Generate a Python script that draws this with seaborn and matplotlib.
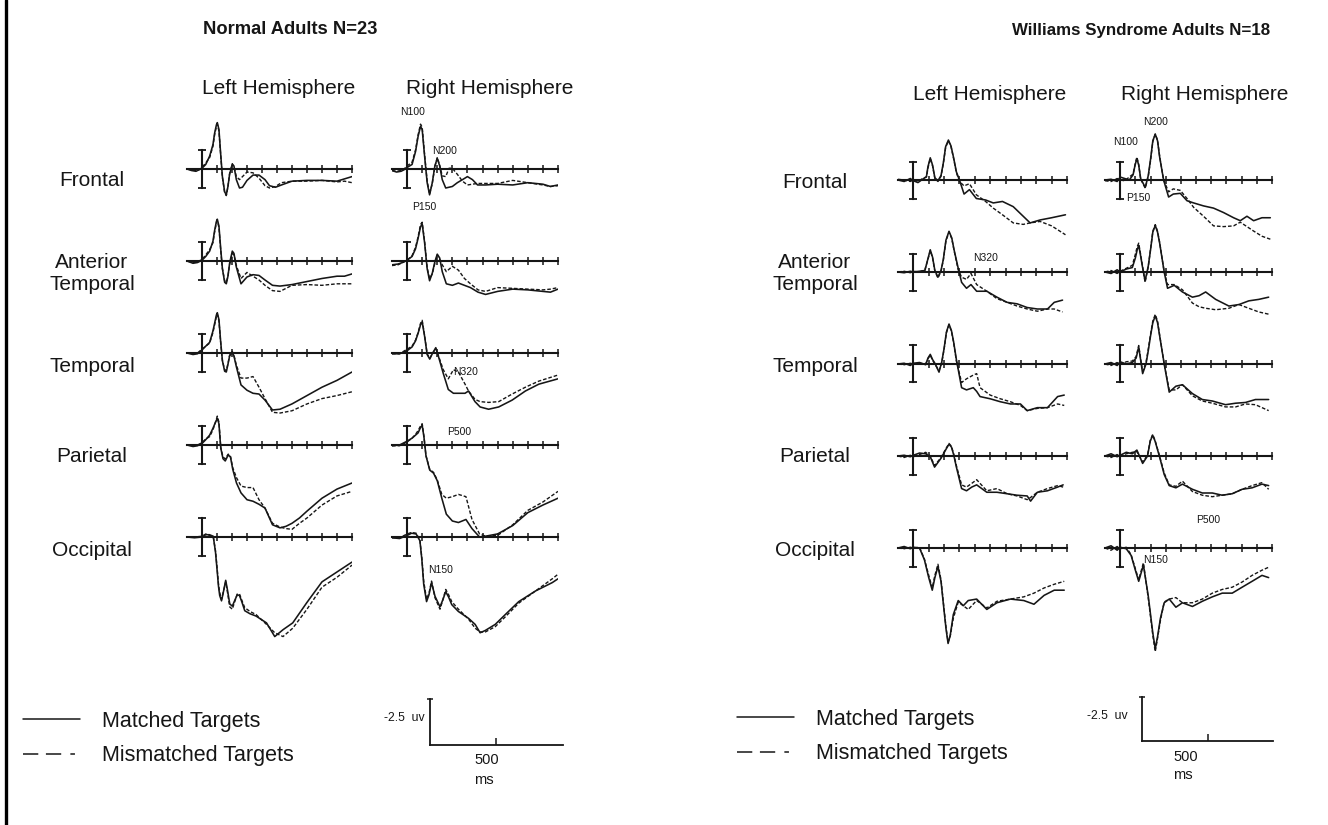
import matplotlib
matplotlib.use("Agg")
import matplotlib.pyplot as plt
import seaborn as sns
from matplotlib.lines import Line2D

sns.set_style("white")
plt.rcParams["font.family"] = ["Liberation Sans", "DejaVu Sans"]

# ---------------- data (time in ms, amplitude in uV, negative plotted up) ----------------
regions = ["Frontal", "Anterior\nTemporal", "Temporal", "Parietal", "Occipital"]
hemispheres = ["Left Hemisphere", "Right Hemisphere"]
conditions = ["Matched Targets", "Mismatched Targets"]
tick_times = [100, 200, 300, 400, 500, 600, 700, 800, 900, 1000]

# Normal adults, left hemisphere
nl_front_t = [-100, -70, -40, -20, 0, 25, 51, 73, 84, 96, 102, 113, 124, 136, 151, 162, 173, 184, 202, 213, 229, 250, 270, 300, 340, 380, 420, 450, 490, 530, 600, 700, 800, 900, 950, 1000]
nl_front_m = [0, 0.2, 0.3, 0.1, -0.1, -0.6, -1.7, -3.2, -4.7, -5.8, -6.1, -5.2, -2.1, 1.0, 3.0, 3.4, 2.3, 0.7, -0.6, -0.4, 1.4, 2.5, 2.4, 1.5, 0.8, 0.8, 1.4, 2.2, 2.4, 2.1, 1.6, 1.5, 1.5, 1.6, 1.3, 1.0]
nl_front_mm = [0, 0.1, 0.2, 0.1, -0.2, -0.8, -1.5, -3.0, -4.5, -5.6, -5.9, -5.0, -2.0, 1.1, 3.1, 3.5, 2.3, 0.6, -0.7, -0.3, 1.0, 1.4, 1.0, 0.4, 0.5, 1.2, 2.2, 2.5, 2.3, 1.8, 1.6, 1.6, 1.5, 1.7, 1.6, 1.8]
nl_at_t = [-100, -60, -30, 0, 25, 51, 73, 84, 96, 102, 113, 124, 136, 151, 162, 173, 184, 202, 213, 229, 260, 300, 340, 380, 420, 470, 520, 600, 700, 800, 900, 950, 1000]
nl_at_m = [0, 0.3, 0.2, -0.1, -0.6, -1.3, -2.6, -4.0, -5.2, -5.5, -4.6, -1.8, 1.0, 2.8, 3.0, 2.0, 0.3, -1.3, -1.0, 0.8, 3.0, 2.1, 1.8, 1.9, 2.5, 3.2, 3.3, 3.1, 2.7, 2.3, 2.0, 2.0, 1.7]
nl_at_mm = [0, 0.2, 0.1, -0.2, -0.8, -1.5, -2.4, -3.8, -5.0, -5.3, -4.4, -1.6, 1.0, 2.6, 2.8, 2.0, 0.5, -1.0, -0.8, 0.6, 2.3, 1.5, 2.0, 2.5, 3.2, 3.9, 4.0, 3.2, 3.1, 3.2, 3.0, 3.0, 3.0]
nl_temp_t = [-100, -60, -30, 0, 25, 51, 73, 84, 96, 102, 113, 124, 136, 151, 162, 173, 184, 202, 213, 229, 260, 300, 340, 380, 420, 470, 520, 600, 700, 800, 900, 1000]
nl_temp_m = [0, 0.2, 0.1, -0.4, -0.9, -1.4, -2.9, -3.9, -5.0, -5.3, -4.4, -1.6, 1.0, 2.4, 2.5, 1.5, 0.4, -0.1, 0.4, 1.8, 4.2, 4.9, 5.3, 5.4, 6.2, 7.5, 7.4, 6.7, 5.6, 4.5, 3.6, 2.5]
nl_temp_mm = [0, 0.1, 0.0, -0.5, -0.9, -1.3, -2.7, -3.7, -4.8, -5.1, -4.2, -1.5, 1.0, 2.2, 2.3, 1.4, 0.3, -0.2, 0.3, 1.6, 3.3, 3.3, 3.1, 4.5, 6.0, 7.8, 7.9, 7.6, 6.7, 6.0, 5.6, 5.1]
nl_par_t = [-100, -60, -30, 0, 25, 51, 73, 90, 102, 113, 125, 140, 155, 175, 190, 205, 230, 260, 300, 340, 380, 420, 470, 520, 560, 600, 650, 700, 800, 900, 1000]
nl_par_m = [0, 0.2, 0.1, -0.2, -0.7, -1.3, -2.2, -3.0, -3.5, -2.8, 0.4, 1.8, 2.1, 1.3, 1.6, 3.2, 5.0, 6.3, 7.2, 7.4, 7.8, 8.3, 10.5, 10.9, 10.7, 10.3, 9.6, 8.7, 7.0, 5.8, 5.0]
nl_par_mm = [0, 0.1, 0.0, -0.3, -0.8, -1.1, -2.0, -3.0, -3.8, -3.0, 0.3, 1.6, 1.8, 1.2, 1.5, 3.0, 4.3, 5.4, 5.6, 5.6, 7.2, 8.3, 10.3, 10.8, 11.0, 11.1, 10.3, 9.6, 7.9, 6.7, 6.1]
nl_occ_t = [-100, -50, 0, 25, 50, 75, 90, 100, 110, 118, 130, 140, 158, 170, 185, 202, 215, 235, 250, 265, 285, 320, 360, 430, 485, 540, 605, 700, 800, 900, 1000]
nl_occ_m = [0, 0.1, 0, -0.3, -0.3, -0.1, 2.0, 4.2, 6.5, 7.7, 8.4, 7.5, 5.7, 7.0, 8.8, 9.1, 8.5, 7.6, 7.7, 8.5, 9.7, 10.1, 10.4, 11.3, 13.1, 12.2, 11.3, 8.6, 5.9, 4.6, 3.3]
nl_occ_mm = [0, 0, -0.1, -0.4, -0.2, 0, 1.8, 3.9, 6.2, 7.3, 8.2, 7.4, 5.9, 7.3, 9.2, 9.5, 8.7, 7.5, 7.5, 8.3, 9.3, 9.8, 10.2, 11.5, 12.6, 13.1, 12.0, 9.5, 6.6, 5.3, 3.7]

# Normal adults, right hemisphere
nr_front_t = [-100, -70, -40, -20, 0, 33, 56, 73, 89, 100, 116, 133, 149, 167, 184, 200, 216, 233, 256, 278, 300, 333, 367, 400, 433, 467, 520, 600, 700, 800, 900, 950, 1000]
nr_front_m = [0.2, 0.4, 0.3, 0.1, -0.2, -0.6, -2.3, -4.3, -5.6, -5.2, -1.7, 1.8, 3.4, 1.8, -0.4, -1.4, -0.4, 1.4, 2.5, 2.4, 2.3, 1.8, 1.4, 1.0, 1.4, 2.1, 2.1, 2.0, 2.1, 1.8, 2.0, 2.3, 2.1]
nr_front_mm = [0.2, 0.3, 0.2, 0.0, -0.4, -0.9, -2.5, -4.5, -5.9, -5.5, -1.9, 1.6, 3.3, 1.9, -0.3, -1.5, -0.5, 0.9, 1.0, -0.1, -0.1, 0.7, 1.6, 2.1, 2.0, 1.9, 1.9, 1.9, 1.5, 1.8, 2.1, 2.3, 2.2]
nr_at_t = [-100, -60, -30, 0, 33, 56, 73, 89, 100, 116, 133, 149, 167, 184, 200, 216, 233, 260, 300, 340, 380, 420, 470, 520, 600, 700, 800, 900, 950, 1000]
nr_at_m = [0.5, 0.4, 0.2, -0.1, -0.6, -1.6, -3.0, -4.5, -4.9, -2.4, 1.0, 2.6, 1.6, 0.1, -0.9, -0.4, 1.4, 3.0, 3.2, 2.9, 3.2, 3.5, 4.1, 4.4, 4.0, 3.7, 3.8, 4.0, 4.1, 3.7]
nr_at_mm = [0.6, 0.5, 0.2, -0.1, -0.7, -1.8, -3.2, -4.8, -5.1, -2.6, 0.9, 2.3, 1.7, 0.3, -0.8, -0.2, 0.5, 1.4, 0.7, 1.2, 2.3, 3.0, 3.8, 4.0, 3.5, 3.6, 3.7, 3.8, 3.7, 3.5]
nr_temp_t = [-100, -50, 0, 33, 56, 73, 89, 100, 116, 133, 150, 167, 190, 210, 240, 273, 307, 340, 384, 407, 450, 484, 540, 607, 696, 784, 873, 1000]
nr_temp_m = [0.1, 0.1, -0.3, -0.8, -1.6, -2.6, -3.7, -4.1, -2.2, 0.2, 0.8, 0.1, -0.7, 0.6, 2.7, 4.8, 5.3, 5.3, 5.3, 5.0, 6.4, 7.1, 7.4, 7.1, 6.2, 5.0, 4.1, 3.4]
nr_temp_mm = [0.1, 0.1, -0.5, -0.9, -1.7, -2.7, -3.9, -4.3, -2.3, 0.1, 0.7, 0.1, -0.6, 0.5, 2.2, 3.4, 2.2, 2.5, 4.1, 5.0, 6.1, 6.4, 6.5, 6.4, 5.4, 4.5, 3.7, 2.9]
nr_par_t = [-100, -50, 0, 33, 56, 73, 89, 100, 112, 125, 150, 175, 200, 230, 260, 300, 340, 390, 430, 480, 520, 600, 700, 800, 900, 1000]
nr_par_m = [0.1, 0, -0.5, -0.9, -1.3, -1.6, -2.3, -2.6, -1.0, 1.4, 3.3, 3.7, 4.7, 7.0, 9.1, 10.0, 10.2, 9.8, 11.0, 12.1, 12.0, 11.7, 10.6, 8.9, 7.9, 7.0]
nr_par_mm = [0.1, 0.1, -0.4, -0.9, -1.4, -1.9, -2.5, -2.8, -1.1, 1.4, 3.2, 3.6, 4.6, 6.5, 7.0, 6.8, 6.5, 6.8, 9.8, 11.7, 12.0, 11.9, 10.5, 8.6, 7.5, 6.1]
nr_occ_t = [-100, -50, 0, 30, 60, 85, 98, 110, 129, 145, 162, 185, 218, 238, 256, 275, 296, 340, 407, 451, 484, 518, 584, 651, 740, 851, 962, 1000]
nr_occ_m = [0.1, 0.2, -0.2, -0.5, -0.4, 0.5, 3.0, 6.2, 8.5, 7.6, 6.0, 7.8, 9.2, 8.2, 7.2, 7.9, 8.9, 9.8, 10.7, 11.5, 12.6, 12.3, 11.5, 10.2, 8.5, 7.1, 6.0, 5.5]
nr_occ_mm = [0.1, 0.1, -0.4, -0.6, -0.5, 0.4, 2.8, 5.8, 8.2, 7.4, 5.8, 8.0, 9.5, 8.2, 6.9, 7.6, 8.5, 9.5, 10.8, 12.0, 12.5, 12.5, 11.8, 10.5, 8.7, 7.1, 5.5, 4.9]

# Williams syndrome adults, left hemisphere
wl_front_t = [-100, -60, -20, 0, 30, 60, 85, 95, 110, 125, 140, 160, 180, 195, 210, 228, 245, 262, 280, 300, 330, 365, 410, 470, 520, 580, 650, 715, 760, 825, 900, 990]
wl_front_m = [0, 0.2, -0.2, 0.1, 0.35, -0.1, -0.45, -1.8, -3.0, -2.0, -0.3, 0.1, -0.6, -2.3, -4.5, -5.4, -4.6, -3.0, -1.1, 0, 1.9, 1.3, 2.5, 2.7, 3.1, 2.9, 3.6, 4.9, 5.8, 5.4, 5.1, 4.7]
wl_front_mm = [-0.1, 0, 0.2, 0, 0.2, -0.2, -0.4, -1.6, -2.9, -1.9, -0.2, 0.2, -0.5, -2.2, -4.4, -5.3, -4.5, -2.9, -1.0, 0.2, 0.8, 0.5, 2.0, 2.9, 3.8, 4.7, 5.8, 6.0, 5.8, 5.6, 6.2, 7.4]
wl_at_t = [-100, -60, -20, 0, 40, 75, 95, 110, 125, 140, 160, 180, 195, 212, 232, 250, 265, 292, 314, 346, 375, 412, 478, 544, 610, 675, 741, 807, 873, 917, 971]
wl_at_m = [0, 0.1, -0.1, 0, -0.1, -0.2, -1.8, -3.0, -2.0, -0.2, 0.7, -0.2, -1.7, -4.3, -5.5, -4.6, -3.0, -0.5, 1.4, 2.2, 1.7, 2.6, 2.6, 3.4, 4.1, 4.3, 4.8, 5.0, 5.0, 4.1, 3.8]
wl_at_mm = [0, -0.1, 0.1, -0.1, 0, -0.3, -1.7, -2.9, -1.9, -0.1, 0.8, -0.1, -1.6, -4.2, -5.4, -4.5, -2.9, -0.3, 0.7, 1.0, 0.2, 1.7, 2.6, 3.6, 4.1, 4.6, 5.0, 5.3, 5.0, 5.0, 5.4]
wl_temp_t = [-100, -60, -20, 0, 40, 80, 95, 110, 125, 140, 167, 185, 200, 215, 232, 248, 262, 280, 314, 346, 390, 412, 434, 500, 566, 632, 697, 741, 807, 873, 939, 982]
wl_temp_m = [0, -0.1, 0.2, -0.1, -0.2, 0.1, -0.8, -1.3, -0.6, -0.1, 1.1, -0.3, -2.1, -4.3, -5.4, -4.5, -3.0, -0.6, 3.2, 3.5, 3.2, 3.7, 4.4, 4.7, 5.1, 5.4, 5.4, 6.3, 5.9, 5.9, 4.4, 4.2]
wl_temp_mm = [0, 0.1, -0.1, 0, -0.1, 0, -0.7, -1.2, -0.5, 0, 0.9, -0.2, -2.0, -4.2, -5.3, -4.4, -2.9, -0.4, 2.5, 2.0, 1.5, 1.3, 3.2, 4.2, 4.7, 5.1, 5.6, 6.3, 6.0, 5.9, 5.4, 5.6]
wl_par_t = [-100, -60, -20, 0, 40, 80, 110, 138, 180, 215, 232, 248, 262, 280, 314, 346, 380, 412, 478, 544, 610, 675, 741, 763, 807, 873, 939, 975]
wl_par_m = [0, -0.1, 0.1, -0.1, -0.4, -0.3, 0.1, 1.5, 0.3, -1.0, -1.6, -1.2, -0.2, 1.5, 4.4, 4.7, 4.2, 3.9, 4.9, 4.9, 5.1, 5.3, 5.4, 6.1, 4.9, 4.7, 4.2, 3.9]
wl_par_mm = [0, 0.2, -0.1, 0.1, -0.2, -0.5, 0, 1.3, 0.2, -1.1, -1.7, -1.3, -0.3, 1.3, 3.9, 4.2, 3.7, 3.2, 4.7, 4.4, 5.1, 5.4, 5.9, 5.6, 4.9, 4.4, 4.0, 4.2]
wl_occ_t = [-100, -60, -20, 0, 40, 72, 100, 123, 140, 160, 180, 200, 213, 226, 240, 260, 292, 325, 357, 412, 478, 544, 632, 719, 785, 851, 917, 982]
wl_occ_m = [0, -0.2, 0.1, -0.1, 0, 1.6, 4.0, 5.7, 4.0, 2.5, 4.5, 8.5, 11.0, 12.9, 11.8, 9.0, 7.1, 7.8, 7.1, 6.9, 8.3, 7.4, 6.9, 7.1, 7.6, 6.4, 5.7, 5.7]
wl_occ_mm = [0, 0.1, -0.1, 0, -0.1, 1.5, 3.7, 5.4, 3.7, 2.2, 4.3, 8.3, 10.8, 12.7, 11.9, 9.5, 7.3, 7.8, 8.3, 7.1, 8.1, 7.2, 6.9, 6.6, 6.1, 5.4, 4.9, 4.5]

# Williams syndrome adults, right hemisphere
wr_front_t = [-100, -60, -20, 0, 30, 60, 85, 98, 110, 122, 135, 165, 185, 200, 215, 231, 246, 260, 286, 319, 350, 396, 440, 484, 549, 615, 681, 747, 791, 835, 879, 934, 989]
wr_front_m = [0, -0.1, 0.2, -0.4, -0.2, 0, -0.7, -2.0, -2.9, -2.0, -0.2, 1.0, -0.6, -2.8, -5.3, -6.2, -5.3, -3.1, 0, 2.3, 1.9, 1.8, 2.8, 3.1, 3.5, 3.8, 4.4, 5.1, 5.5, 4.9, 5.5, 5.1, 5.1]
wr_front_mm = [0.1, 0.2, -0.2, 0, 0.1, -0.4, -0.8, -2.1, -3.1, -2.1, -0.1, 1.1, -0.5, -2.6, -5.2, -6.2, -5.4, -3.2, 0, 1.6, 1.2, 1.4, 2.5, 3.7, 4.9, 6.2, 6.3, 6.2, 5.7, 6.3, 6.9, 7.6, 8.0]
wr_at_t = [-100, -60, -20, 0, 40, 80, 100, 112, 122, 132, 145, 164, 185, 200, 215, 231, 246, 260, 290, 312, 356, 410, 476, 520, 563, 629, 716, 782, 847, 913, 978]
wr_at_m = [0, 0.2, -0.3, 0, -0.4, -0.6, -1.9, -3.0, -3.6, -2.5, -0.9, 1.2, -0.8, -3.0, -5.4, -6.3, -5.4, -3.9, 0, 2.2, 1.8, 2.7, 3.4, 3.2, 2.7, 3.7, 4.6, 4.4, 3.9, 3.7, 3.4]
wr_at_mm = [0, -0.2, 0.2, -0.1, -0.5, -0.9, -2.4, -3.4, -3.9, -2.7, -1.1, 1.4, -0.7, -3.1, -5.5, -6.4, -5.5, -4.0, 0, 1.7, 1.7, 2.4, 4.2, 4.7, 4.9, 5.1, 4.9, 4.4, 4.9, 5.4, 5.7]
wr_temp_t = [-100, -60, -20, 0, 40, 80, 105, 122, 135, 148, 170, 185, 200, 215, 231, 246, 260, 290, 323, 367, 410, 476, 541, 607, 694, 760, 825, 891, 978]
wr_temp_m = [0, -0.2, 0.2, -0.3, 0, -0.2, -0.8, -2.3, -0.5, 1.3, 0.0, -1.8, -3.8, -5.6, -6.5, -5.6, -3.8, 0, 3.8, 3.0, 2.8, 4.0, 4.8, 5.0, 5.5, 5.3, 5.2, 4.8, 4.8]
wr_temp_mm = [0, 0.2, -0.2, 0.1, -0.3, -0.4, -1.0, -2.5, -0.7, 1.0, -0.2, -2.0, -4.0, -5.8, -6.7, -5.8, -3.9, 0, 3.5, 3.5, 2.8, 4.3, 5.0, 5.3, 5.8, 5.8, 5.4, 5.5, 6.3]
wr_par_t = [-100, -60, -20, 0, 40, 80, 110, 148, 180, 198, 214, 230, 258, 290, 323, 367, 410, 476, 541, 607, 672, 738, 803, 869, 934, 978]
wr_par_m = [0, -0.3, 0.1, -0.1, -0.5, -0.3, -0.8, 1.0, 0.0, -2.0, -2.8, -2.0, 0, 2.5, 4.0, 4.3, 3.8, 4.5, 5.0, 5.0, 5.3, 5.1, 4.5, 4.3, 3.8, 4.0]
wr_par_mm = [0, 0.2, -0.2, 0.1, -0.3, -0.5, -0.6, 0.8, -0.1, -2.1, -2.9, -2.1, -0.1, 2.3, 3.9, 4.1, 3.4, 4.8, 5.3, 5.5, 5.3, 5.1, 4.5, 4.0, 3.6, 4.5]
wr_occ_t = [-100, -60, -20, 0, 40, 72, 100, 122, 153, 185, 215, 231, 246, 265, 290, 323, 367, 410, 476, 541, 607, 672, 738, 803, 869, 934, 978]
wr_occ_m = [0, -0.3, 0.3, -0.1, 0.1, 1.0, 3.0, 4.5, 2.3, 6.5, 11.5, 13.6, 12.0, 9.5, 7.4, 6.9, 8.0, 7.4, 7.9, 7.2, 6.6, 6.1, 6.1, 5.3, 4.5, 3.7, 4.0]
wr_occ_mm = [0, 0.3, -0.2, 0.1, -0.1, 0.9, 2.8, 4.3, 2.0, 6.8, 11.8, 14.0, 12.2, 9.8, 7.3, 6.9, 6.7, 7.4, 7.4, 6.9, 6.1, 5.6, 5.3, 4.6, 3.7, 3.0, 2.6]

# component labels: (text, hemisphere index, region index, time ms, uV)
normal_components = [("N100", 1, 0, 33, -7.5), ("N200", 1, 0, 247, -2.4), ("P150", 1, 0, 113, 5.0),
                     ("N320", 1, 2, 387, 2.5), ("P500", 1, 3, 347, -1.7), ("N150", 1, 4, 220, 4.3)]
ws_components = [("N320", 0, 1, 467, -1.9), ("N200", 1, 0, 230, -7.9), ("N100", 1, 0, 38, -5.2),
                 ("P150", 1, 0, 118, 2.4), ("P500", 1, 3, 580, 8.6), ("N150", 1, 4, 230, 1.6)]

bar_uv = 2.5          # calibration bar in each panel (+/-)
scale_ms = 500        # legend scale bar
scale_uv = -2.5

# ---------------- layout (pixels) ----------------
W, H = 1328, 825
INK = "#161616"

groups = [
    dict(title="Normal Adults N=23", title_xy=(290, 30), title_fs=13.2,
         data=[[(nl_front_t, nl_front_m, nl_front_mm), (nl_at_t, nl_at_m, nl_at_mm), (nl_temp_t, nl_temp_m, nl_temp_mm),
                (nl_par_t, nl_par_m, nl_par_mm), (nl_occ_t, nl_occ_m, nl_occ_mm)],
               [(nr_front_t, nr_front_m, nr_front_mm), (nr_at_t, nr_at_m, nr_at_mm), (nr_temp_t, nr_temp_m, nr_temp_mm),
                (nr_par_t, nr_par_m, nr_par_mm), (nr_occ_t, nr_occ_m, nr_occ_mm)]],
         x0=(187, 392), x1=(352, 558), base=[169, 261, 353, 445, 537], ppu=7.6,
         hemi_xy=[(279, 88), (490, 88)], row_x=92, row_y=[180, 273, 366, 457, 550],
         comps=normal_components, legend_xy=(23, 711),
         scale=dict(x0=430, x1=563, base=745, top=699, label_xy=(425, 718), tick_lbl=(474, 760, 780))),
    dict(title="Williams Syndrome Adults N=18", title_xy=(1141, 30), title_fs=12.2,
         data=[[(wl_front_t, wl_front_m, wl_front_mm), (wl_at_t, wl_at_m, wl_at_mm), (wl_temp_t, wl_temp_m, wl_temp_mm),
                (wl_par_t, wl_par_m, wl_par_mm), (wl_occ_t, wl_occ_m, wl_occ_mm)],
               [(wr_front_t, wr_front_m, wr_front_mm), (wr_at_t, wr_at_m, wr_at_mm), (wr_temp_t, wr_temp_m, wr_temp_mm),
                (wr_par_t, wr_par_m, wr_par_mm), (wr_occ_t, wr_occ_m, wr_occ_mm)]],
         x0=(898, 1105), x1=(1067, 1272), base=[180, 272, 364, 456, 548], ppu=7.4,
         hemi_xy=[(990, 95), (1205, 95)], row_x=815, row_y=[182, 273, 366, 457, 550],
         comps=ws_components, legend_xy=(737, 709),
         scale=dict(x0=1142, x1=1273, base=741, top=697, label_xy=(1128, 716), tick_lbl=(1173, 757, 775))),
]

fig = plt.figure(figsize=(W / 100, H / 100), dpi=100)


def rect(x0, x1, ytop, ybot):
    return [x0 / W, 1 - ybot / H, (x1 - x0) / W, (ybot - ytop) / H]


def fx(x):
    return x / W


def fy(y):
    return 1 - y / H


TOP_PX, BOT_PX = 75, 115
dash_wave = (0, (2.6, 1.4))

for g in groups:
    fig.text(fx(g["title_xy"][0]), fy(g["title_xy"][1]), g["title"], ha="center", va="center",
             fontsize=g["title_fs"], fontweight="bold", color=INK)
    for hi, hemi in enumerate(hemispheres):
        fig.text(fx(g["hemi_xy"][hi][0]), fy(g["hemi_xy"][hi][1]), hemi, ha="center", va="center",
                 fontsize=15, color=INK)
    for ri, reg in enumerate(regions):
        fig.text(fx(g["row_x"]), fy(g["row_y"][ri]), reg, ha="center", va="center",
                 fontsize=15, color=INK, linespacing=1.2)

    axes = {}
    for hi in range(2):
        for ri in range(5):
            base = g["base"][ri]
            ppu = g["ppu"]
            ax = fig.add_axes(rect(g["x0"][hi], g["x1"][hi], base - TOP_PX, base + BOT_PX))
            ax.patch.set_alpha(0)
            t, m, mm = g["data"][hi][ri]
            sns.lineplot(x=t, y=m, ax=ax, color=INK, linewidth=1.15, estimator=None)
            sns.lineplot(x=t, y=mm, ax=ax, color=INK, linewidth=1.0, linestyle=dash_wave, estimator=None)
            ax.set_xlim(-100, 1000)
            ax.set_ylim(BOT_PX / ppu, -TOP_PX / ppu)
            for s in ("top", "right"):
                ax.spines[s].set_visible(False)
            ax.spines["bottom"].set_position(("data", 0))
            ax.spines["bottom"].set_bounds(-100, 1000)
            ax.spines["left"].set_position(("data", 0))
            ax.spines["left"].set_bounds(-bar_uv, bar_uv)
            for s in ("bottom", "left"):
                ax.spines[s].set_linewidth(1.5)
                ax.spines[s].set_color(INK)
            ax.set_xticks(tick_times)
            ax.set_yticks([-bar_uv, bar_uv])
            ax.tick_params(axis="x", bottom=True, direction="inout", length=6, width=1.1,
                           color=INK, labelbottom=False)
            ax.tick_params(axis="y", left=True, direction="inout", length=6, width=1.3,
                           color=INK, labelleft=False)
            ax.set_xlabel("")
            ax.set_ylabel("")
            axes[(hi, ri)] = ax

    for txt, hi, ri, tt, vv in g["comps"]:
        axes[(hi, ri)].text(tt, vv, txt, ha="center", va="center", fontsize=7.5, color=INK)

    # legend
    h_m = Line2D([], [], color=INK, lw=1.1)
    h_mm = Line2D([], [], color=INK, lw=1.1, linestyle=(0, (10, 5, 10, 6, 3, 30)))
    lx, ly = g["legend_xy"]
    fig.legend([h_m, h_mm], conditions, loc="upper left", bbox_to_anchor=(fx(lx), fy(ly)),
               frameon=False, fontsize=15.5, handlelength=2.65, handletextpad=1.0,
               labelspacing=0.62, borderpad=0, borderaxespad=0, labelcolor=INK)

    # scale bar
    sc = g["scale"]
    ppu_s = (sc["base"] - sc["top"]) / abs(scale_uv)
    ms_per_px = scale_ms / 66.0
    sax = fig.add_axes(rect(sc["x0"], sc["x1"], sc["top"] - 8, sc["base"] + 8))
    sax.patch.set_alpha(0)
    sax.set_xlim(0, (sc["x1"] - sc["x0"]) * ms_per_px)
    sax.set_ylim(8 / ppu_s, scale_uv - 8 / ppu_s)
    for s in ("top", "right"):
        sax.spines[s].set_visible(False)
    sax.spines["bottom"].set_position(("data", 0))
    sax.spines["left"].set_position(("data", 0))
    sax.spines["left"].set_bounds(scale_uv, 0)
    for s in ("bottom", "left"):
        sax.spines[s].set_linewidth(1.3)
        sax.spines[s].set_color(INK)
    sax.set_xticks([scale_ms])
    sax.set_yticks([scale_uv])
    sax.tick_params(axis="x", bottom=True, direction="in", length=5, width=1.1, color=INK, labelbottom=False)
    sax.tick_params(axis="y", left=True, direction="inout", length=5, width=1.1, color=INK, labelleft=False)
    fig.text(fx(sc["label_xy"][0]), fy(sc["label_xy"][1]), f"{scale_uv}  uv", ha="right", va="center",
             fontsize=8.8, color=INK)
    tx, ty1, ty2 = sc["tick_lbl"]
    fig.text(fx(tx), fy(ty1), f"{scale_ms}", ha="left", va="center", fontsize=10.5, color=INK)
    fig.text(fx(tx), fy(ty2), "ms", ha="left", va="center", fontsize=10.5, color=INK)

# left border of the figure
fig.add_artist(Line2D([fx(6), fx(6)], [0, 1], transform=fig.transFigure, color="black", lw=2.4))

fig.savefig("out.png", dpi=100)
